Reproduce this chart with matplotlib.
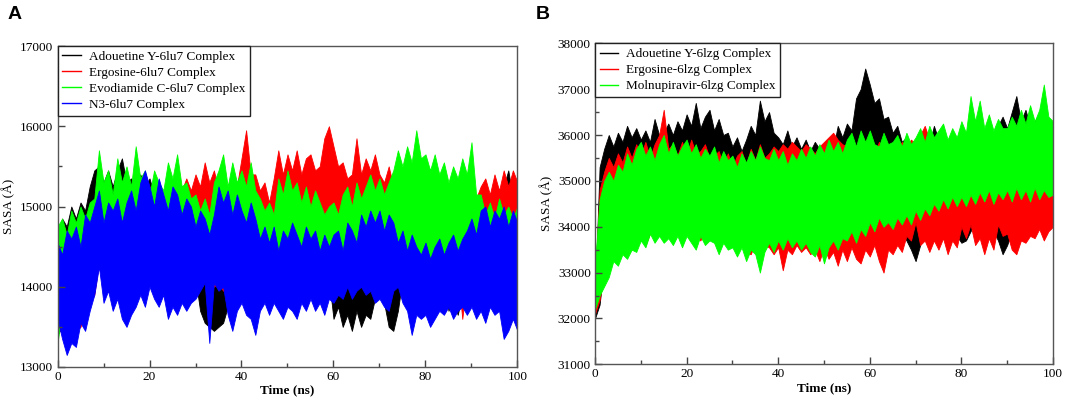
import numpy as np
import matplotlib
matplotlib.use("Agg")
import matplotlib.pyplot as plt
from matplotlib.lines import Line2D
from matplotlib.ticker import MultipleLocator

# ---------------- data (ns, SASA envelope values read per 1 ns) ----------------
time_ns = list(range(0, 101))

# Panel A (6lu7)
a_labels = ["Adouetine Y-6lu7 Complex", "Ergosine-6lu7 Complex",
            "Evodiamide C-6lu7 Complex", "N3-6lu7 Complex"]
a_colors = ["#000000", "#ff0000", "#00ff00", "#0000ff"]

adouetine_a_hi = [14600, 14850, 14750, 15000, 14850, 15050, 14950, 15250, 15450, 15500,
                  15300, 15450, 15250, 15450, 15600, 15300, 15350, 15200, 15400, 15250,
                  15350, 15150, 15200, 15050, 15100, 14950, 15000, 14900, 15000, 14850,
                  14700, 14700, 14700, 14700, 14700, 14700, 14700, 14700, 14700, 14700,
                  14700, 14700, 14700, 14700, 14700, 14700, 14700, 14700, 14700, 14700,
                  14700, 14700, 14700, 14700, 14700, 14700, 14700, 14700, 14700, 14700,
                  14700, 14700, 14700, 14700, 14700, 14700, 14700, 14700, 14700, 14700,
                  14700, 14700, 14700, 14700, 14700, 14700, 14700, 14700, 14700, 14700,
                  14700, 14700, 14700, 14700, 14700, 14700, 14700, 14700, 14700, 14700,
                  14700, 14700, 14700, 14700, 14700, 15150, 14950, 15250, 15450, 15100,
                  15400]
adouetine_a_lo = [13400, 13500, 13450, 13600, 13550, 13700, 13750, 13850, 14000, 14300,
                  14100, 14100, 14100, 14100, 14100, 14100, 14100, 14100, 14100, 14100,
                  14100, 14100, 14100, 14100, 14100, 14100, 14100, 14100, 14100, 14100,
                  14100, 13700, 13550, 13500, 13450, 13500, 13550, 13750, 14100, 14100,
                  14100, 14100, 14100, 14100, 14100, 14100, 14100, 14100, 14100, 14100,
                  14100, 14100, 14100, 14100, 14100, 14100, 14100, 14100, 14100, 14100,
                  13600, 13750, 13500, 13650, 13450, 13700, 13500, 13650, 13600, 13850,
                  14000, 13800, 13500, 13450, 13700, 14100, 14100, 14100, 14100, 14100,
                  14100, 14100, 14100, 14100, 14100, 13700, 13850, 13650, 13900, 13700,
                  13950, 14100, 14100, 14100, 14100, 14100, 14100, 14100, 14100, 14100,
                  14100]
ergosine_a_hi = [14600, 14800, 14650, 14750, 14700, 14650, 14850, 14750, 14950, 14850,
                 15050, 14900, 15150, 14950, 15050, 15000, 15150, 14950, 15200, 15050,
                 15250, 15100, 15200, 15050, 15300, 15150, 15300, 15200, 15350, 15200,
                 15400, 15250, 15550, 15300, 15450, 15200, 15250, 15100, 15400, 15250,
                 15600, 15950, 15400, 15400, 15200, 15300, 15050, 15350, 15700, 15400,
                 15650, 15450, 15700, 15400, 15600, 15650, 15450, 15500, 15850, 16000,
                 15750, 15500, 15550, 15350, 15400, 15850, 15400, 15600, 15450, 15650,
                 15400, 15300, 15500, 15250, 15350, 15150, 15250, 15100, 15200, 15050,
                 15150, 15000, 15100, 14950, 15200, 15000, 15200, 14950, 15150, 15050,
                 15250, 15100, 15250, 15350, 15150, 15400, 15200, 15450, 15250, 15450,
                 15300]
ergosine_a_lo = [13800, 13650, 13750, 13500, 13450, 13500, 13700, 13800, 13900, 14300,
                 14200, 14200, 14200, 14200, 14200, 14200, 14200, 14200, 14200, 14200,
                 14200, 14200, 14200, 14200, 14200, 14200, 14200, 14200, 14200, 14200,
                 14200, 14200, 14200, 14200, 14000, 14050, 13950, 14200, 14200, 14200,
                 14200, 14200, 14200, 14200, 14200, 14200, 14200, 14200, 14200, 14200,
                 14200, 14200, 14200, 14200, 14200, 14200, 14200, 14200, 14200, 14200,
                 14200, 14200, 14200, 14200, 14200, 14200, 14200, 14200, 14200, 14200,
                 14200, 14200, 14200, 14200, 14200, 14200, 14200, 14200, 14200, 14200,
                 14200, 14200, 14200, 14200, 14200, 14200, 14200, 14200, 13600, 14100,
                 14200, 14200, 14200, 14200, 14200, 14200, 14200, 14200, 14200, 14200,
                 14200]
evodiamide_a_hi = [14750, 14850, 14650, 14950, 14800, 15000, 14850, 15050, 15100, 15700,
                   15300, 15450, 15150, 15600, 15300, 15500, 15250, 15750, 15350, 15450,
                   15150, 15450, 15300, 15200, 15550, 15350, 15650, 15250, 15300, 15100,
                   15150, 14950, 15100, 14900, 15300, 15450, 15650, 15250, 15550, 15300,
                   15450, 15250, 15550, 15200, 15100, 14950, 15050, 14900, 15350, 15150,
                   15450, 15200, 15300, 15050, 15250, 15000, 15200, 15050, 14900, 15000,
                   15050, 14900, 15150, 15250, 15000, 15300, 15100, 15250, 15400, 15200,
                   15350, 15150, 15300, 15450, 15700, 15500, 15750, 15550, 15950, 15600,
                   15650, 15450, 15650, 15400, 15550, 15300, 15500, 15350, 15600, 15400,
                   15800, 15150, 15150, 14900, 15050, 14850, 15100, 14900, 15000, 14850,
                   15000]
evodiamide_a_lo = [13300, 13700, 13900, 14000, 14100, 14200, 14250, 14300, 14350, 14400,
                   14300, 14350, 14250, 14300, 14200, 14250, 14300, 14350, 14250, 14300,
                   14350, 14300, 14250, 14300, 14350, 14300, 14250, 14300, 14350, 14300,
                   14250, 14300, 14350, 14300, 14250, 14300, 14350, 14300, 14250, 14300,
                   14350, 14300, 14250, 14300, 14350, 14300, 14350, 14400, 14350, 14300,
                   14350, 14300, 14350, 14400, 14350, 14300, 14350, 14300, 14250, 14300,
                   14350, 14300, 14250, 14300, 14350, 14300, 14350, 14300, 14350, 14400,
                   14350, 14400, 14350, 14400, 14350, 14400, 14350, 14300, 14400, 14350,
                   14300, 14350, 14300, 14400, 14350, 14300, 14350, 14400, 14300, 14350,
                   14300, 14250, 14300, 14350, 14300, 14250, 14300, 14350, 14300, 14250,
                   14300]
n3_a_hi = [14550, 14400, 14700, 14600, 14750, 14500, 14900, 14800, 15000, 15200,
           14800, 15050, 14950, 15100, 14800, 15050, 15200, 14950, 15300, 15450,
           15250, 15000, 15350, 15150, 14950, 15250, 15150, 14900, 15100, 15000,
           14750, 14950, 14850, 14650, 14900, 15250, 15050, 15200, 14900, 15150,
           14950, 14800, 15050, 14850, 14600, 14750, 14550, 14750, 14450, 14700,
           14600, 14800, 14650, 14500, 14750, 14600, 14700, 14450, 14650, 14500,
           14650, 14700, 14450, 14800, 14700, 14550, 14900, 14750, 14950, 14800,
           14950, 14700, 14900, 14800, 14550, 14700, 14450, 14650, 14500, 14400,
           14550, 14350, 14500, 14600, 14400, 14550, 14650, 14450, 14600, 14700,
           14850, 14650, 14950, 15000, 14750, 14950, 14850, 15000, 14750, 14950,
           14800]
n3_a_lo = [13600, 13350, 13150, 13300, 13250, 13550, 13450, 13700, 13900, 14250,
           13800, 13950, 13700, 13850, 13600, 13500, 13650, 13750, 13900, 13750,
           14000, 13850, 13750, 13900, 13600, 13750, 13650, 13800, 13700, 13800,
           13850, 13950, 14050, 13300, 14050, 13950, 14000, 13650, 13450, 13700,
           13800, 13650, 13600, 13400, 13700, 13800, 13650, 13800, 13700, 13600,
           13750, 13700, 13600, 13800, 13700, 13850, 13700, 13800, 13650, 13850,
           13800, 13900, 13850, 14000, 13850, 13950, 14000, 13900, 13950, 13800,
           13850, 13750, 13700, 13950, 14000, 13800, 13700, 13400, 13650, 13600,
           13650, 13500, 13600, 13700, 13650, 13750, 13600, 13700, 13750, 13650,
           13750, 13600, 13700, 13550, 13750, 13650, 13700, 13350, 13450, 13600,
           13450]

# Panel B (6lzg)
b_labels = ["Adouetine Y-6lzg Complex", "Ergosine-6lzg Complex",
            "Molnupiravir-6lzg Complex"]
b_colors = ["#000000", "#ff0000", "#00ff00"]

adouetine_b_hi = [32500, 35300, 35700, 36000, 35750, 36050, 35850, 36200, 35950, 36150,
                  35900, 36100, 35850, 36350, 36000, 36050, 36250, 36000, 36300, 36100,
                  36450, 36200, 36700, 36150, 36400, 36550, 36100, 36350, 36000, 36050,
                  35750, 35950, 35650, 35900, 36200, 36000, 36750, 36300, 36500, 36050,
                  35950, 35800, 36100, 35750, 35950, 35700, 35900, 35650, 35850, 35700,
                  35650, 35800, 35700, 36200, 35950, 36250, 36100, 36800, 37000, 37450,
                  37100, 36700, 36800, 36350, 36400, 36050, 36200, 35850, 35950, 35750,
                  35850, 35700, 35900, 35800, 36200, 35900, 36100, 35850, 35950, 35750,
                  35800, 35700, 35850, 35650, 35800, 35750, 36050, 35850, 36200, 36400,
                  36150, 36500, 36850, 36300, 36550, 36200, 36300, 36450, 36100, 36300,
                  36150]
adouetine_b_lo = [32000, 32300, 33200, 33400, 33700, 33600, 33850, 33800, 34000, 34000,
                  34200, 34100, 34200, 34100, 34200, 34100, 34200, 34100, 34200, 34100,
                  34200, 34100, 34200, 34100, 34200, 34100, 34200, 34100, 34200, 34100,
                  34200, 34100, 34200, 34100, 34200, 34100, 34200, 34100, 34200, 34100,
                  34200, 34100, 34200, 34100, 34200, 34100, 34200, 34100, 34200, 34100,
                  34200, 34100, 34200, 34100, 34200, 34100, 34200, 34100, 34200, 34100,
                  34000, 34100, 33950, 34050, 34000, 33900, 34000, 33850, 33700, 33500,
                  33250, 33600, 33900, 34000, 33900, 34050, 33950, 34000, 33900, 33800,
                  33650, 33700, 33900, 34100, 34000, 34050, 33950, 33900, 33700, 33400,
                  33600, 33900, 34000, 34100, 34050, 34000, 34100, 34050, 34000, 34100,
                  34050]
ergosine_b_hi = [32800, 34800, 35200, 35500, 35300, 35600, 35400, 35750, 35500, 35800,
                 35550, 35850, 35500, 35800, 36000, 36550, 35700, 35800, 35550, 35850,
                 35550, 35900, 35600, 35650, 35800, 35500, 35550, 35650, 35350, 35600,
                 35300, 35550, 35650, 35350, 35700, 35450, 35800, 35500, 35600, 35750,
                 35650, 35800, 35700, 35850, 35750, 35650, 35800, 35700, 35600, 35750,
                 35850, 35950, 36050, 35900, 35800, 35750, 35850, 35700, 35650, 35800,
                 35700, 35600, 35850, 35750, 35650, 35800, 35700, 35850, 35750, 35900,
                 35800, 36000, 36200, 35900, 35800, 35850, 35700, 35800, 35900, 35750,
                 35850, 35800, 35700, 35850, 35750, 35800, 35700, 35850, 35750, 35800,
                 35650, 35750, 35700, 35600, 35650, 35700, 35550, 35650, 35600, 35500,
                 35550]
ergosine_b_lo = [32100, 32400, 33000, 33250, 33450, 33300, 33550, 33450, 33650, 33600,
                 33800, 33600, 33850, 33800, 33900, 33700, 33900, 33750, 33850, 33700,
                 33900, 33750, 33850, 33700, 33900, 33750, 33800, 33700, 33850, 33650,
                 33750, 33600, 33700, 33450, 33400, 33650, 33450, 33600, 33550, 33400,
                 33550, 33050, 33500, 33400, 33600, 33450, 33550, 33400, 33500, 33250,
                 33550, 33300, 33450, 33150, 33500, 33250, 33550, 33300, 33200, 33500,
                 33350, 33600, 33250, 33000, 33500, 33400, 33600, 33450, 33800, 33700,
                 34100, 33600, 33700, 33450, 33700, 33500, 33750, 33400, 33700, 33550,
                 34000, 33750, 34050, 33600, 33750, 33400, 33750, 33500, 34050, 33800,
                 33850, 33500, 33400, 33700, 33650, 33800, 33750, 33950, 33700, 33900,
                 34000]
molnupiravir_b_hi = [33200, 34600, 35000, 35200, 35000, 35350, 35200, 35600, 35350, 35700,
                     35850, 35550, 35750, 35450, 35800, 36000, 35600, 35850, 35550, 35750,
                     35900, 35600, 35800, 35500, 35700, 35550, 35750, 35400, 35650, 35450,
                     35550, 35300, 35600, 35400, 35650, 35450, 35750, 35500, 35450, 35700,
                     35450, 35650, 35350, 35600, 35450, 35700, 35500, 35750, 35550, 35800,
                     35600, 35900, 35650, 35850, 35600, 35900, 36050, 35750, 36100, 35850,
                     36100, 35800, 35750, 36050, 35800, 35850, 36000, 35750, 36050, 35800,
                     35950, 36150, 35850, 36200, 35950, 36100, 36250, 35900, 36150, 35950,
                     36300, 36050, 36850, 36300, 36750, 36150, 36450, 36100, 36350, 36150,
                     36150, 36400, 36200, 36550, 36250, 36650, 36300, 36550, 37100, 36400,
                     36300]
molnupiravir_b_lo = [32200, 32500, 32700, 32900, 33250, 33150, 33400, 33300, 33500, 33450,
                     33700, 33550, 33850, 33650, 33800, 33650, 33750, 33600, 33800, 33550,
                     33800, 33650, 33500, 33800, 33600, 33700, 33650, 33400, 33650, 33500,
                     33550, 33350, 33550, 33250, 33500, 33400, 33000, 33450, 33650, 33450,
                     33700, 33500, 33750, 33550, 33700, 33500, 33650, 33450, 33350, 33600,
                     33200, 33550, 33700, 33500, 33750, 33700, 33900, 33650, 33950, 33800,
                     34100, 33900, 34200, 34000, 34100, 33950, 34200, 34050, 34250, 34050,
                     34350, 34150, 34400, 34250, 34500, 34350, 34600, 34400, 34650, 34450,
                     34650, 34450, 34700, 34500, 34750, 34550, 34800, 34500, 34750, 34600,
                     34800, 34550, 34850, 34600, 34800, 34550, 34850, 34600, 34800, 34650,
                     34700]

a_series = [(adouetine_a_lo, adouetine_a_hi), (ergosine_a_lo, ergosine_a_hi),
            (evodiamide_a_lo, evodiamide_a_hi), (n3_a_lo, n3_a_hi)]
b_series = [(adouetine_b_lo, adouetine_b_hi), (ergosine_b_lo, ergosine_b_hi),
            (molnupiravir_b_lo, molnupiravir_b_hi)]

# ---------------- drawing ----------------
SERIF = ["Liberation Serif", "DejaVu Serif"]
plt.rcParams["font.family"] = SERIF
FS = 9.5

fig = plt.figure(figsize=(10.65, 3.98), dpi=100)
axA = fig.add_axes([0.0540, 0.0779, 0.4319, 0.8065])
axB = fig.add_axes([0.5587, 0.0847, 0.4300, 0.8065])


def draw_panel(ax, series, colors, labels, ylim, ylabel):
    t = np.array(time_ns, dtype=float)
    for (lo, hi), c in zip(series, colors):
        ax.fill_between(t, lo, hi, color=c, linewidth=0.6, edgecolor=c)
    ax.set_xlim(0, 100)
    ax.set_ylim(*ylim)
    ax.xaxis.set_major_locator(MultipleLocator(20))
    ax.xaxis.set_minor_locator(MultipleLocator(10))
    ax.yaxis.set_major_locator(MultipleLocator(1000))
    ax.yaxis.set_minor_locator(MultipleLocator(500))
    ax.tick_params(which="major", direction="in", length=5, width=1,
                   color="#444444", labelsize=FS, pad=3)
    ax.tick_params(which="minor", direction="in", length=3, width=1,
                   color="#444444")
    for s in ax.spines.values():
        s.set_color("#555555")
        s.set_linewidth(1.0)
    ax.set_xlabel("Time (ns)", fontsize=FS, fontweight="bold", labelpad=1)
    ax.set_ylabel(ylabel, fontsize=FS)
    ax.yaxis.set_label_coords(-0.091, 0.5)
    handles = [Line2D([0], [0], color=c, lw=1.0) for c in colors]
    leg = ax.legend(handles, labels, loc="upper left", borderaxespad=0,
                    fancybox=False, framealpha=1, edgecolor="#222222",
                    fontsize=FS, handlelength=1.4, handletextpad=0.6,
                    labelspacing=0.29, borderpad=0.35)
    leg.get_frame().set_linewidth(1.0)


draw_panel(axA, a_series, a_colors, a_labels, (13000, 17000), "SASA (Å)")
draw_panel(axB, b_series, b_colors, b_labels, (31000, 38000), "SASA (Å)")

fig.text(0.0075, 0.963, "A", fontsize=14, fontweight="bold",
         family=["Liberation Sans", "DejaVu Sans"], va="center", ha="left")
fig.text(0.503, 0.963, "B", fontsize=14, fontweight="bold",
         family=["Liberation Sans", "DejaVu Sans"], va="center", ha="left")

fig.savefig("out.png", dpi=100)
